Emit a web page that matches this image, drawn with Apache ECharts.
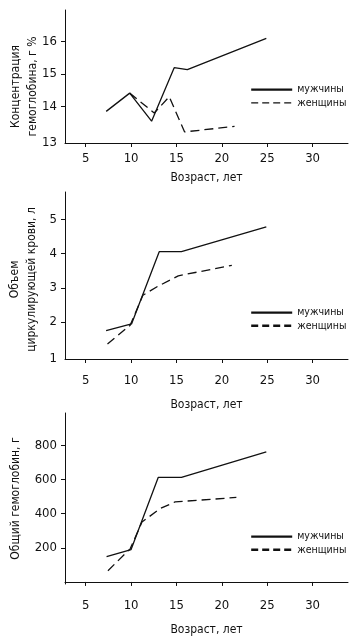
<!DOCTYPE html>
<html>
<head>
<meta charset="utf-8">
<script src="https://cdn.jsdelivr.net/npm/echarts@6/dist/echarts.min.js"></script>
<style>
html,body{margin:0;padding:0;background:#fff;}
#c{width:355px;height:641px;}
</style>
</head>
<body>
<div id="c"></div>
<script>
// ---- data ----
const xTicks = [5, 10, 15, 20, 25, 30];
const seriesNames = ['мужчины', 'женщины'];
const xName = 'Возраст, лет';

// Chart 1: концентрация гемоглобина
const c1Name = 'Концентрация\nгемоглобина, г %';
const c1Ticks = [13, 14, 15, 16];
const c1MenAge = [7.26, 9.85, 12.26, 14.75, 16.2, 24.9];
const c1MenVal = [13.85, 14.41, 13.55, 15.19, 15.13, 16.09];
const c1WomenAge = [9.85, 12.55, 14.2, 15.9, 21.4];
const c1WomenVal = [14.41, 13.8, 14.3, 13.22, 13.39];

// Chart 2: объем циркулирующей крови
const c2Name = 'Объем\nциркулирующей крови, л';
const c2Ticks = [1, 2, 3, 4, 5];
const c2MenAge = [7.25, 10.05, 13.1, 15.55, 24.9];
const c2MenVal = [1.74, 1.94, 4.06, 4.06, 4.79];
const c2WomenAge = [7.4, 9.9, 11.3, 13.0, 15.2, 21.1];
const c2WomenVal = [1.35, 1.9, 2.78, 3.05, 3.35, 3.66];

// Chart 3: общий гемоглобин
const c3Name = 'Общий гемоглобин, г';
const c3Ticks = [200, 400, 600, 800];
const c3MenAge = [7.3, 10.0, 13.0, 15.55, 24.9];
const c3MenVal = [149, 190, 613, 613, 762];
const c3WomenAge = [7.45, 9.9, 11.2, 13.2, 14.85, 21.6];
const c3WomenVal = [66, 194, 351, 430, 469, 495];

// ---- build ----
const FONT = "'Liberation Sans Narrow', 'DejaVu Sans Condensed', 'Roboto', sans-serif";
const INK = '#111';
const pairs = (a, b) => a.map((v, i) => [v, b[i]]);

const grids = [
  {left: 65, top: 10, width: 283, height: 133, outerBoundsMode: 'none', containLabel: false},
  {left: 65, top: 192, width: 283, height: 167, outerBoundsMode: 'none', containLabel: false},
  {left: 65, top: 413, width: 283, height: 171, outerBoundsMode: 'none', containLabel: false}
];
const yRanges = [[12.88, 16.96], [0.91, 5.81], [-12, 990]];
const yTicks = [c1Ticks, c2Ticks, c3Ticks];
const yNames = [c1Name, c2Name, c3Name];
const yNameGaps = [24, 25, 41];
const yNamePads = [[0, 20, 0, 0], [0, 8, 0, 0], [0, 0, 0, 0]];
const xLabelMargins = [9, 15, 15];
const xNameGaps = [29, 40, 40];
const legendTops = [84, 307, 531];
const men = [pairs(c1MenAge, c1MenVal), pairs(c2MenAge, c2MenVal), pairs(c3MenAge, c3MenVal)];
const women = [pairs(c1WomenAge, c1WomenVal), pairs(c2WomenAge, c2WomenVal), pairs(c3WomenAge, c3WomenVal)];
const legendDashW = [1.2, 2.4, 2.4];

// bottom tick label sits on the axis line in the reference
function labelValues(i) {
  const [mn, mx] = yRanges[i];
  return yTicks[i].map(v => (Math.abs(v - mn) < (mx - mn) * 0.05 ? mn : v));
}
function tickValues(i) {
  const [mn, mx] = yRanges[i];
  return yTicks[i].filter(v => Math.abs(v - mn) >= (mx - mn) * 0.05);
}

const option = {
  backgroundColor: '#fff',
  animation: false,
  textStyle: {fontFamily: FONT, color: INK},
  grid: grids,
  xAxis: grids.map((g, i) => ({
    type: 'value', gridIndex: i, min: 2.72, max: 33.9,
    name: xName, nameLocation: 'middle', nameGap: xNameGaps[i], nameMoveOverlap: false,
    nameTextStyle: {fontFamily: FONT, fontSize: 12, color: INK},
    splitLine: {show: false},
    axisLine: {show: true, lineStyle: {color: INK, width: 1}},
    axisTick: {show: true, length: 4, customValues: xTicks, lineStyle: {color: INK}},
    axisLabel: {customValues: xTicks, margin: xLabelMargins[i], fontFamily: FONT, fontSize: 13, color: INK}
  })),
  yAxis: grids.map((g, i) => ({
    type: 'value', gridIndex: i, min: yRanges[i][0], max: yRanges[i][1],
    name: yNames[i], nameLocation: 'middle', nameGap: yNameGaps[i], nameRotate: 90, nameMoveOverlap: false,
    nameTextStyle: {fontFamily: FONT, fontSize: 12, color: INK, lineHeight: 17, padding: yNamePads[i]},
    splitLine: {show: false},
    axisLine: {show: true, lineStyle: {color: INK, width: 1}},
    axisTick: {show: true, length: 4, customValues: tickValues(i), lineStyle: {color: INK}},
    axisLabel: {customValues: labelValues(i), margin: 8, fontFamily: FONT, fontSize: 13, color: INK,
      formatter: v => String(Math.round(v))}
  })),
  legend: grids.map((g, i) => ({
    orient: 'vertical', left: 250, top: legendTops[i], padding: 0,
    itemWidth: 41, itemHeight: 14, itemGap: 2,
    textStyle: {fontFamily: FONT, fontSize: 10.5, color: INK},
    data: [
      {name: seriesNames[0] + '\u200b'.repeat(i), itemStyle: {opacity: 0, borderWidth: 0},
        lineStyle: {width: 2.4, type: 'solid', color: INK}},
      {name: seriesNames[1] + '\u200b'.repeat(i), itemStyle: {opacity: 0, borderWidth: 0},
        lineStyle: {width: legendDashW[i], type: [7, 4], color: INK}}
    ],
    formatter: n => n.replace(/\u200b/g, '')
  })),
  series: []
};

for (let i = 0; i < 3; i++) {
  option.series.push({
    type: 'line', name: seriesNames[0] + '\u200b'.repeat(i), xAxisIndex: i, yAxisIndex: i,
    data: men[i], symbol: 'none', color: INK,
    lineStyle: {color: INK, width: 1.3, type: 'solid'}
  });
  option.series.push({
    type: 'line', name: seriesNames[1] + '\u200b'.repeat(i), xAxisIndex: i, yAxisIndex: i,
    data: women[i], symbol: 'none', color: INK,
    lineStyle: {color: INK, width: 1.3, type: [9, 5]}
  });
}

const chart = echarts.init(document.getElementById('c'), null, {renderer: 'canvas'});
chart.setOption(option);
</script>
</body>
</html>
